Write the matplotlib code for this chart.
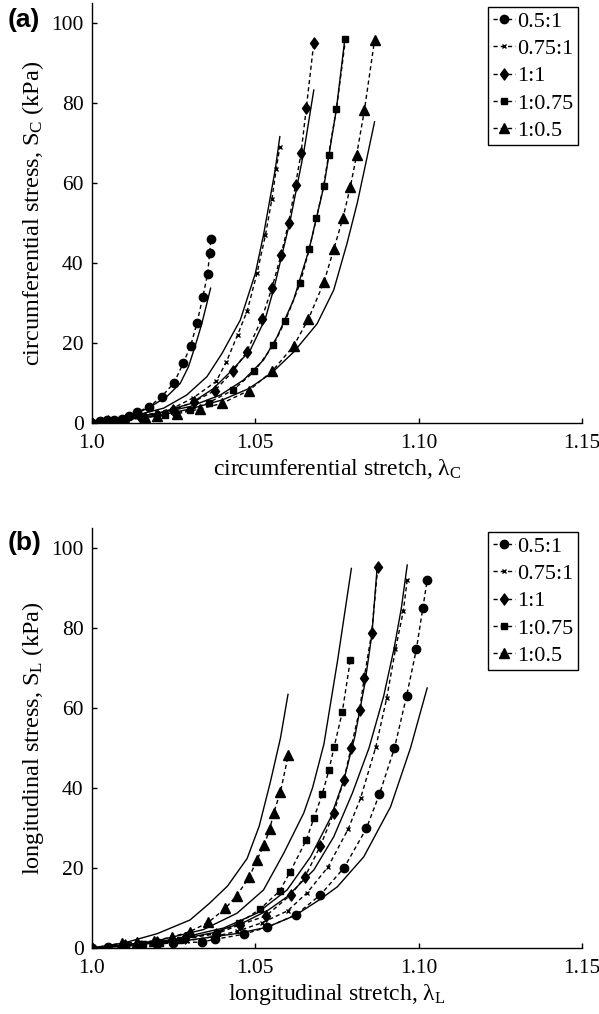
import matplotlib
matplotlib.use("Agg")
import matplotlib.pyplot as plt
from matplotlib.path import Path

plt.rcParams['font.family'] = ['Liberation Serif', 'DejaVu Serif']
plt.rcParams['mathtext.fontset'] = 'custom'
plt.rcParams['mathtext.rm'] = 'Liberation Serif'
plt.rcParams['mathtext.it'] = 'Liberation Serif:italic'

series_labels = ['0.5:1', '0.75:1', '1:1', '1:0.75', '1:0.5']

# ---------------- Panel (a): circumferential ----------------
a_r05_lam = [1.0, 1.0023, 1.0045, 1.0068, 1.0091, 1.0114, 1.0137, 1.0176, 1.0213, 1.0251, 1.028, 1.0302, 1.0321, 1.0339, 1.0354, 1.036, 1.0364]
a_r05_S = [0, 0.5, 0.7, 0.8, 1.1, 1.8, 2.65, 4.1, 6.6, 10.0, 15.1, 19.3, 24.9, 31.4, 37.3, 42.4, 46.0]
a_r075_lam = [1.0, 1.005, 1.01, 1.015, 1.02, 1.025, 1.031, 1.038, 1.0411, 1.0446, 1.0475, 1.0505, 1.0531, 1.0551, 1.0564, 1.0575]
a_r075_S = [0, 0.5, 1.1, 1.8, 2.6, 3.8, 6.3, 10.4, 15.2, 22.1, 28.0, 37.4, 47.0, 56.1, 63.5, 69.1]
a_r11_lam = [1.0, 1.005, 1.01, 1.015, 1.0198, 1.0249, 1.0311, 1.0376, 1.0433, 1.0473, 1.0519, 1.0551, 1.0579, 1.0602, 1.0623, 1.064, 1.0656, 1.0679]
a_r11_S = [0, 0.4, 0.8, 1.3, 2.0, 3.25, 5.3, 8.1, 13.1, 17.7, 25.9, 33.8, 42.1, 50.1, 59.5, 67.5, 78.7, 95.1]
a_r1075_lam = [1.0, 1.005, 1.01, 1.016, 1.0224, 1.03, 1.0357, 1.0431, 1.0497, 1.0555, 1.0592, 1.0637, 1.0665, 1.0687, 1.0709, 1.0724, 1.0748, 1.0776]
a_r1075_S = [0, 0.3, 0.7, 1.3, 2.0, 3.2, 5.1, 8.2, 12.9, 19.4, 25.6, 34.9, 43.4, 51.2, 59.25, 66.9, 78.4, 95.9]
a_r105_lam = [1.0, 1.005, 1.01, 1.0163, 1.0198, 1.026, 1.0331, 1.0397, 1.048, 1.0552, 1.0617, 1.0662, 1.071, 1.074, 1.0768, 1.0791, 1.081, 1.0834, 1.0865]
a_r105_S = [0, 0.3, 0.8, 1.5, 1.8, 2.3, 3.5, 4.9, 8.1, 13.0, 19.25, 25.9, 35.2, 43.4, 51.2, 59.1, 67.0, 78.25, 95.75]

fa_r05_lam = [1.0, 1.008, 1.0137, 1.0178, 1.0229, 1.027, 1.0295, 1.0316, 1.0335, 1.0352, 1.0363]
fa_r05_S = [0, 1.0, 2.4, 4.0, 6.6, 9.9, 14.0, 19.3, 24.5, 30.0, 33.7]
fa_r075_lam = [1.0, 1.01, 1.0219, 1.029, 1.0352, 1.0398, 1.0454, 1.05, 1.0525, 1.0561, 1.0575]
fa_r075_S = [0, 1.2, 3.7, 7.0, 11.6, 17.4, 25.75, 37.4, 47.0, 63.4, 71.6]
fa_r11_lam = [1.0, 1.01, 1.02, 1.03, 1.037, 1.043, 1.0485, 1.0531, 1.0558, 1.0607, 1.0648, 1.0679]
fa_r11_S = [0, 1.0, 2.4, 4.8, 8.5, 13.3, 18.3, 26.2, 34.0, 50.75, 67.6, 83.25]
fa_r1075_lam = [1.0, 1.01, 1.02, 1.03, 1.0393, 1.0464, 1.0525, 1.0567, 1.0617, 1.0664, 1.071, 1.0748, 1.0773]
fa_r1075_S = [0, 1.0, 2.4, 4.1, 7.0, 10.75, 15.75, 21.6, 30.75, 43.25, 59.25, 78.4, 95.3]
fa_r105_lam = [1.0, 1.01, 1.02, 1.03, 1.04, 1.048, 1.055, 1.0618, 1.0689, 1.074, 1.0781, 1.0812, 1.0837, 1.0865]
fa_r105_S = [0, 0.8, 1.8, 3.5, 5.8, 8.6, 12.5, 17.8, 24.8, 33.25, 45.0, 55.0, 64.5, 75.3]

# ---------------- Panel (b): longitudinal ----------------
b_r05_lam = [1.0, 1.005, 1.01, 1.015, 1.02, 1.0248, 1.0336, 1.0378, 1.0465, 1.0536, 1.0623, 1.0699, 1.0772, 1.084, 1.088, 1.0926, 1.0963, 1.0993, 1.1013, 1.1026]
b_r05_S = [0, 0.2, 0.5, 0.7, 1.0, 1.25, 1.5, 2.2, 3.45, 5.2, 8.25, 13.25, 20.1, 29.9, 38.5, 50.0, 63.0, 74.7, 85.1, 92.0]
b_r075_lam = [1.0, 1.01, 1.02, 1.029, 1.037, 1.0445, 1.052, 1.0599, 1.0659, 1.0722, 1.0784, 1.0822, 1.0869, 1.0902, 1.0929, 1.0953, 1.0965]
b_r075_S = [0, 0.6, 1.2, 1.8, 2.8, 4.2, 6.3, 9.3, 13.85, 20.2, 29.7, 37.4, 50.3, 62.4, 74.7, 84.25, 92.0]
b_r11_lam = [1.0, 1.01, 1.02, 1.0285, 1.038, 1.0452, 1.0532, 1.0608, 1.0652, 1.0699, 1.074, 1.0771, 1.0793, 1.0819, 1.0833, 1.0856, 1.0875]
b_r11_S = [0, 0.8, 1.5, 2.5, 3.5, 5.8, 8.0, 13.25, 17.8, 25.5, 33.75, 42.0, 50.1, 59.4, 67.4, 78.7, 95.3]
b_r1075_lam = [1.0, 1.01, 1.0157, 1.0209, 1.027, 1.0382, 1.0449, 1.0514, 1.0575, 1.0607, 1.0656, 1.0679, 1.0705, 1.0725, 1.0741, 1.0766, 1.0791]
b_r1075_S = [0, 0.5, 0.9, 1.3, 2.0, 3.8, 6.2, 9.7, 14.3, 19.1, 27.0, 32.4, 38.5, 44.4, 50.2, 58.9, 72.1]
b_r105_lam = [1.0, 1.0091, 1.0137, 1.019, 1.0244, 1.03, 1.0356, 1.0408, 1.0443, 1.0482, 1.0504, 1.0527, 1.0544, 1.0556, 1.0577, 1.0601]
b_r105_S = [0, 1.2, 1.4, 1.8, 2.75, 4.1, 6.4, 9.9, 13.1, 17.8, 21.9, 25.75, 29.7, 33.7, 39.1, 48.25]

fb_r05_lam = [1.0, 1.015, 1.03, 1.045, 1.0536, 1.0623, 1.0699, 1.0751, 1.0832, 1.0914, 1.0975, 1.1026]
fb_r05_S = [0, 0.9, 2.0, 3.7, 5.2, 8.2, 12.2, 15.3, 22.8, 35.3, 50.0, 65.0]
fb_r075_lam = [1.0, 1.0125, 1.025, 1.037, 1.047, 1.054, 1.0597, 1.0679, 1.074, 1.0797, 1.0848, 1.0893, 1.0925, 1.0947, 1.0965]
fb_r075_S = [0, 0.9, 1.9, 3.8, 6.6, 9.5, 12.8, 19.5, 27.8, 38.7, 50.0, 63.0, 75.0, 85.0, 95.75]
fb_r11_lam = [1.0, 1.0125, 1.0249, 1.0403, 1.0505, 1.0597, 1.0669, 1.073, 1.0771, 1.0805, 1.0835, 1.0857, 1.0873]
fb_r11_S = [0, 0.9, 2.1, 5.0, 8.7, 14.5, 22.8, 32.5, 42.0, 53.0, 66.0, 78.5, 95.3]
fb_r1075_lam = [1.0, 1.01, 1.0198, 1.0341, 1.0444, 1.0525, 1.0587, 1.0648, 1.0675, 1.071, 1.0752, 1.0794]
fb_r1075_S = [0, 0.8, 1.8, 4.6, 8.7, 14.5, 23.7, 33.7, 40.0, 51.0, 72.0, 94.9]
fb_r105_lam = [1.0, 1.01, 1.02, 1.03, 1.036, 1.0415, 1.0475, 1.0512, 1.0546, 1.0577, 1.06]
fb_r105_S = [0, 1.3, 3.6, 7.0, 11.2, 15.5, 22.4, 30.5, 41.5, 52.5, 63.4]

x_ticks = [1.0, 1.05, 1.10, 1.15]
x_tick_labels = ['1.0', '1.05', '1.10', '1.15']
y_ticks = [0, 20, 40, 60, 80, 100]

diamond = Path([(0, 1), (0.72, 0), (0, -1), (-0.72, 0), (0, 1)],
               [Path.MOVETO, Path.LINETO, Path.LINETO, Path.LINETO, Path.CLOSEPOLY])
marker_styles = [
    dict(marker='o', ms=6),
    dict(marker='x', ms=3.5, mew=1.0),
    dict(marker=diamond, ms=8),
    dict(marker='s', ms=5),
    dict(marker='^', ms=7),
]

W, H = 599, 1014
fig = plt.figure(figsize=(W / 100, H / 100), dpi=100)

def make_axes(bottom_px):
    left = 92 / W
    width = (582 - 92) / W
    height = 420 / H
    bottom = 1 - bottom_px / H
    return fig.add_axes([left, bottom, width, height])

panels = [
    dict(bottom=423, label='(a)', label_y=20,
         data=[(a_r05_lam, a_r05_S), (a_r075_lam, a_r075_S), (a_r11_lam, a_r11_S),
               (a_r1075_lam, a_r1075_S), (a_r105_lam, a_r105_S)],
         fits=[(fa_r05_lam, fa_r05_S), (fa_r075_lam, fa_r075_S), (fa_r11_lam, fa_r11_S),
               (fa_r1075_lam, fa_r1075_S), (fa_r105_lam, fa_r105_S)],
         xlabel='circumferential stretch, λ$_{\\mathrm{C}}$',
         ylabel='circumferential stress, S$_{\\mathrm{C}}$ (kPa)'),
    dict(bottom=948, label='(b)', label_y=543,
         data=[(b_r05_lam, b_r05_S), (b_r075_lam, b_r075_S), (b_r11_lam, b_r11_S),
               (b_r1075_lam, b_r1075_S), (b_r105_lam, b_r105_S)],
         fits=[(fb_r05_lam, fb_r05_S), (fb_r075_lam, fb_r075_S), (fb_r11_lam, fb_r11_S),
               (fb_r1075_lam, fb_r1075_S), (fb_r105_lam, fb_r105_S)],
         xlabel='longitudinal stretch, λ$_{\\mathrm{L}}$',
         ylabel='longitudinal stress, S$_{\\mathrm{L}}$ (kPa)'),
]

for p in panels:
    ax = make_axes(p['bottom'])
    handles = []
    for (lam, S), ms, lab in zip(p['data'], marker_styles, series_labels):
        h, = ax.plot(lam, S, color='black', linestyle=(0, (3, 2.2)), lw=1.0,
                     mfc='black', mec='black', label=lab, zorder=3, **ms)
        handles.append(h)
    for lam, S in p['fits']:
        ax.plot(lam, S, color='black', lw=1.0, zorder=2)
    ax.set_xlim(1.0, 1.15)
    ax.set_ylim(0, 105)
    ax.set_xticks(x_ticks)
    ax.set_xticklabels(x_tick_labels)
    ax.set_yticks(y_ticks)
    for s in ['top', 'right']:
        ax.spines[s].set_visible(False)
    for s in ['left', 'bottom']:
        ax.spines[s].set_linewidth(1.0)
    ax.tick_params(direction='in', length=3.5, width=1.0, labelsize=15.5)
    ax.tick_params(axis='x', pad=8)
    ax.tick_params(axis='y', pad=6)
    ax.set_xlabel(p['xlabel'], fontsize=17, labelpad=3)
    ax.set_ylabel(p['ylabel'], fontsize=17.5, labelpad=4)
    leg = ax.legend(handles=handles, loc='upper right',
                    bbox_to_anchor=((578 - 92) / 490, 0.9905),
                    fontsize=16, frameon=True, fancybox=False, edgecolor='black',
                    framealpha=1, handlelength=1.0, handletextpad=0.1,
                    borderpad=0.2, labelspacing=0.3, borderaxespad=0)
    leg.get_frame().set_linewidth(1.0)
    fig.text(8 / W, 1 - p['label_y'] / H, p['label'], fontsize=19, fontweight='bold',
             family='Liberation Sans', va='center', ha='left')

fig.savefig('out.png', dpi=100)
